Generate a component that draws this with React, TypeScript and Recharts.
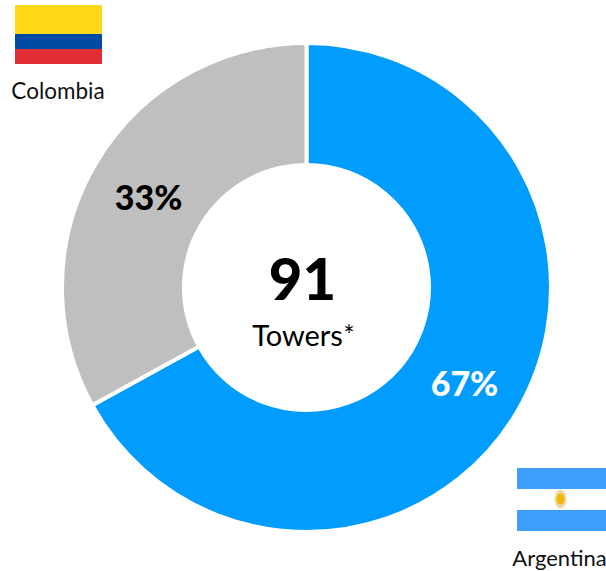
import React from "react";
import { PieChart, Pie, Cell } from "recharts";

const countries = ["Argentina", "Colombia"];
const shares = [67, 33];
const sliceColors = ["#009DFF", "#BFBFBF"];
const shareLabelColors = ["#FFFFFF", "#000000"];
const towerTotal = "91";
const towerCaption = "Towers";

const colombiaStripes = ["#FFD817", "#014BA4", "#E02D36"];
const argentinaStripes = ["#3D9FFB", "#FFFFFF", "#3D9FFB"];

const FONT = "Lato, 'Open Sans', sans-serif";
const pieData = countries.map((name, i) => ({ name, value: shares[i] }));

const RADIAN = Math.PI / 180;

// Percentages sit in the middle of the ring, white or black depending on the slice.
function ShareLabel(props: any) {
  const { cx, cy, midAngle, innerRadius, outerRadius, index, value } = props;
  const r = (innerRadius + outerRadius) / 2;
  const x = cx + r * Math.cos(-midAngle * RADIAN);
  const y = cy + r * Math.sin(-midAngle * RADIAN) + 2;
  return (
    <text
      x={x}
      y={y}
      textAnchor="middle"
      dominantBaseline="central"
      fontFamily={FONT}
      fontWeight={900}
      fontSize={34}
      fill={shareLabelColors[index]}
    >
      {value}%
    </text>
  );
}

function Flag({ x, y, w, bands, colors }: { x: number; y: number; w: number; bands: number[]; colors: string[] }) {
  let top = y;
  return (
    <g>
      {bands.map((h, i) => {
        const rect = <rect key={i} x={x} y={top} width={w} height={h} fill={colors[i]} />;
        top += h;
        return rect;
      })}
    </g>
  );
}

export default function App() {
  return (
    <div style={{ position: "absolute", left: 0, top: 0, width: 606, height: 571, overflow: "hidden" }}>
      <PieChart width={606} height={571} margin={{ top: 0, right: 0, bottom: 0, left: 0 }}>
        <Pie
          data={pieData}
          dataKey="value"
          cx={306.5}
          cy={287.5}
          innerRadius={122.5}
          outerRadius={244.5}
          startAngle={90}
          endAngle={-270}
          stroke="#FFFFFF"
          strokeWidth={4}
          label={ShareLabel}
          labelLine={false}
          isAnimationActive={false}
        >
          {pieData.map((d, i) => (
            <Cell key={d.name} fill={sliceColors[i]} />
          ))}
        </Pie>
        <text x={302.5} y={277} textAnchor="middle" dominantBaseline="central" fontFamily={FONT} fontWeight={900} fontSize={58} fill="#000">
          {towerTotal}
        </text>
        <text x={297.5} y={334} textAnchor="middle" dominantBaseline="central" fontFamily={FONT} fontSize={29} fill="#000">
          {towerCaption}
        </text>
        <text x={349} y={335} textAnchor="middle" dominantBaseline="central" fontFamily={FONT} fontSize={26} fill="#000">
          *
        </text>

        <Flag x={15} y={5} w={87} bands={[29, 15, 15]} colors={colombiaStripes} />
        <text x={58} y={90} textAnchor="middle" dominantBaseline="central" fontFamily={FONT} fontSize={22.5} fill="#111">
          {countries[1]}
        </text>

        <Flag x={517} y={468} w={89} bands={[21, 21, 21]} colors={argentinaStripes} />
        <ellipse cx={560.5} cy={499} rx={6} ry={9.5} fill="#EBD9A8" />
        <ellipse cx={560.5} cy={499} rx={4} ry={5.5} fill="#F2B705" />
        <text x={559.5} y={557} textAnchor="middle" dominantBaseline="central" fontFamily={FONT} fontSize={22} fill="#111">
          {countries[0]}
        </text>
      </PieChart>
    </div>
  );
}
